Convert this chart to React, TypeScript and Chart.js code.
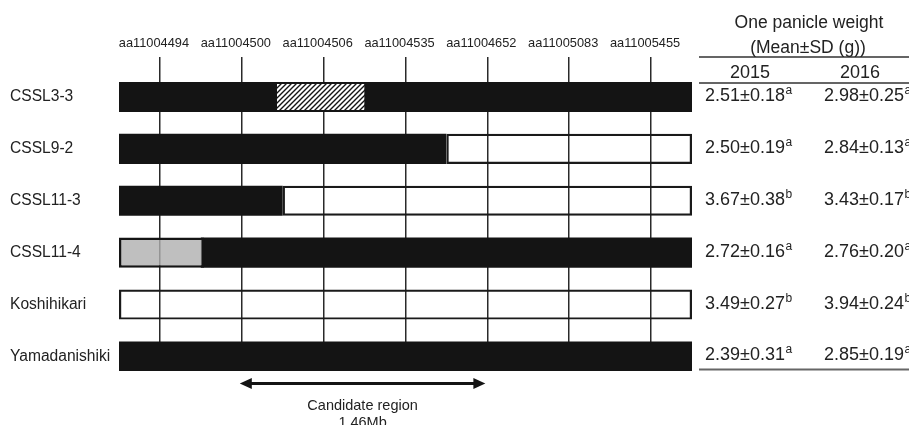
import React, { useEffect, useRef } from "react";
import { Chart, registerables } from "chart.js";

Chart.register(...registerables);

// ---- data ----
const rows = ["CSSL3-3", "CSSL9-2", "CSSL11-3", "CSSL11-4", "Koshihikari", "Yamadanishiki"];
const markers = ["aa11004494", "aa11004500", "aa11004506", "aa11004535", "aa11004652", "aa11005083", "aa11005455"];

// genotype segments per row, in marker-position units (markers sit at 1..7)
const blackSeg: ([number, number] | null)[] = [[0.5, 7.5], [0.5, 4.5], [0.5, 2.5], [1.5, 7.5], null, [0.5, 7.5]];
const whiteSeg: ([number, number] | null)[] = [null, [4.5, 7.5], [2.5, 7.5], null, [0.5, 7.5], null];
const hatchSeg: ([number, number] | null)[] = [[2.43, 3.5], null, null, null, null, null];
const graySeg: ([number, number] | null)[] = [null, null, null, [0.5, 1.54], null, null];

const candidateRegion = [2, 5];
const candidateLabel = ["Candidate region", "1.46Mb"];

const years = ["2015", "2016"];
const mean2015 = [2.51, 2.5, 3.67, 2.72, 3.49, 2.39];
const sd2015 = [0.18, 0.19, 0.38, 0.16, 0.27, 0.31];
const letter2015 = ["a", "a", "b", "a", "b", "a"];
const mean2016 = [2.98, 2.84, 3.43, 2.76, 3.94, 2.85];
const sd2016 = [0.25, 0.13, 0.17, 0.2, 0.24, 0.19];
const letter2016 = ["a", "a", "b", "a", "b", "a"];
const tableTitle = ["One panicle weight", "(Mean\u00b1SD (g))"];

const FONT = "'Liberation Sans', Arial, Helvetica, sans-serif";
const BLACK = "#141414";
const TEXT = "#222";

function toData(seg: ([number, number] | null)[]) {
  const out: { x: [number, number]; y: number }[] = [];
  seg.forEach((s, i) => {
    if (s) out.push({ x: s, y: i + 1 });
  });
  return out;
}

export default function App() {
  const ref = useRef<HTMLCanvasElement | null>(null);

  useEffect(() => {
    const canvas = ref.current!;
    const ctx = canvas.getContext("2d")!;

    const tile = document.createElement("canvas");
    tile.width = 5;
    tile.height = 5;
    const t = tile.getContext("2d")!;
    t.fillStyle = "#fff";
    t.fillRect(0, 0, 5, 5);
    t.strokeStyle = BLACK;
    t.lineWidth = 1.4;
    t.beginPath();
    t.moveTo(-1, 6);
    t.lineTo(6, -1);
    t.moveTo(-3.5, 3.5);
    t.lineTo(3.5, -3.5);
    t.moveTo(1.5, 8.5);
    t.lineTo(8.5, 1.5);
    t.stroke();
    const hatch = ctx.createPattern(tile, "repeat")!;

    const tablePlugin = {
      id: "tableAndArrow",
      afterDraw(chart: any) {
        const c = chart.ctx;
        const area = chart.chartArea;
        const ys = chart.scales.y;
        const xs = chart.scales.x;
        c.save();
        // table lines
        const tl = 699;
        c.strokeStyle = "#333";
        c.lineWidth = 1.5;
        c.beginPath();
        c.moveTo(tl, area.top);
        c.lineTo(909, area.top);
        c.moveTo(tl, area.top + 26);
        c.lineTo(909, area.top + 26);
        c.stroke();
        c.strokeStyle = "#666";
        c.lineWidth = 2.2;
        c.beginPath();
        c.moveTo(tl, area.bottom - 1.5);
        c.lineTo(909, area.bottom - 1.5);
        c.stroke();

        c.fillStyle = TEXT;
        c.textBaseline = "alphabetic";
        c.textAlign = "center";
        c.font = `17.5px ${FONT}`;
        c.fillText(tableTitle[0], 809, 27.5);
        c.fillText(tableTitle[1], 808, 53);
        c.font = `18px ${FONT}`;
        c.fillText(years[0], 750, 78);
        c.fillText(years[1], 860, 78);

        const cols = [
          { x: 705, m: mean2015, s: sd2015, l: letter2015 },
          { x: 824, m: mean2016, s: sd2016, l: letter2016 },
        ];
        c.textAlign = "left";
        rows.forEach((_, i) => {
          const yb = ys.getPixelForValue(i + 1) + 4;
          cols.forEach((col) => {
            const txt = `${col.m[i].toFixed(2)}\u00b1${col.s[i].toFixed(2)}`;
            c.font = `18px ${FONT}`;
            c.fillText(txt, col.x, yb);
            const w = c.measureText(txt).width;
            c.font = `12px ${FONT}`;
            c.fillText(col.l[i], col.x + w + 0.5, yb - 7);
          });
        });

        // candidate arrow
        const x1 = xs.getPixelForValue(candidateRegion[0]) - 2;
        const x2 = xs.getPixelForValue(candidateRegion[1]) - 2;
        const ay = area.bottom + 12.5;
        c.strokeStyle = BLACK;
        c.fillStyle = BLACK;
        c.lineWidth = 3;
        c.beginPath();
        c.moveTo(x1 + 8, ay);
        c.lineTo(x2 - 8, ay);
        c.stroke();
        c.beginPath();
        c.moveTo(x1, ay);
        c.lineTo(x1 + 12, ay - 5.5);
        c.lineTo(x1 + 12, ay + 5.5);
        c.closePath();
        c.fill();
        c.beginPath();
        c.moveTo(x2, ay);
        c.lineTo(x2 - 12, ay - 5.5);
        c.lineTo(x2 - 12, ay + 5.5);
        c.closePath();
        c.fill();
        c.fillStyle = TEXT;
        c.textAlign = "center";
        c.font = `14.5px ${FONT}`;
        const cx = (x1 + x2) / 2;
        c.fillText(candidateLabel[0], cx, area.bottom + 39);
        c.fillText(candidateLabel[1], cx, area.bottom + 56);
        c.restore();
      },
    };

    const common = { grouped: false, barPercentage: 0.58, categoryPercentage: 1, borderSkipped: false as const };

    const chart = new Chart(ctx, {
      type: "bar",
      data: {
        datasets: [
          {
            label: "hatched",
            data: toData(hatchSeg) as any,
            backgroundColor: hatch as any,
            borderColor: BLACK,
            borderWidth: { top: 2, bottom: 2, left: 0, right: 0 } as any,
            ...common,
          },
          {
            label: "gray",
            data: toData(graySeg) as any,
            backgroundColor: "rgba(175,175,175,0.8)",
            borderColor: BLACK,
            borderWidth: 2.5,
            ...common,
          },
          {
            label: "white",
            data: toData(whiteSeg) as any,
            backgroundColor: "rgba(255,255,255,0)",
            borderColor: "#1a1a1a",
            borderWidth: 2.2,
            ...common,
          },
          {
            label: "black",
            data: toData(blackSeg) as any,
            backgroundColor: BLACK,
            borderWidth: 0,
            ...common,
          },
        ],
      },
      options: {
        indexAxis: "y",
        animation: false,
        responsive: false,
        events: [],
        layout: { padding: { left: 10, right: 217, top: 37, bottom: 54 } },
        plugins: { legend: { display: false }, tooltip: { enabled: false } },
        scales: {
          x: {
            type: "linear",
            position: "top",
            min: 0.5,
            max: 7.5,
            offset: false,
            afterBuildTicks: (axis: any) => {
              axis.ticks = markers.map((_, i) => ({ value: i + 1 }));
            },
            afterFit: (axis: any) => {
              axis.height = 20;
            },
            grid: { color: "#2a2a2a", lineWidth: 1.5, drawTicks: false, offset: false },
            border: { display: false },
            ticks: {
              callback: (v: any) => markers[Number(v) - 1] ?? "",
              font: { size: 12.8, family: FONT },
              color: TEXT,
              padding: 6,
              labelOffset: -6,
              maxRotation: 0,
              autoSkip: false,
            },
          },
          y: {
            type: "linear",
            reverse: true,
            min: 0.23,
            max: 6.28,
            offset: false,
            afterBuildTicks: (axis: any) => {
              axis.ticks = rows.map((_, i) => ({ value: i + 1 }));
            },
            afterFit: (axis: any) => {
              axis.width = 109;
            },
            grid: { display: false, offset: false },
            border: { display: false },
            ticks: {
              callback: (v: any) => rows[Number(v) - 1] ?? "",
              font: { size: 15.6, family: FONT },
              color: TEXT,
              crossAlign: "far",
              autoSkip: false,
            },
          },
        },
      } as any,
      plugins: [tablePlugin],
    });
    return () => chart.destroy();
  }, []);

  return (
    <div style={{ position: "fixed", left: 0, top: 0, width: 909, height: 425, background: "#fff", overflow: "hidden" }}>
      <canvas ref={ref} width={909} height={425} style={{ display: "block" }} />
    </div>
  );
}
